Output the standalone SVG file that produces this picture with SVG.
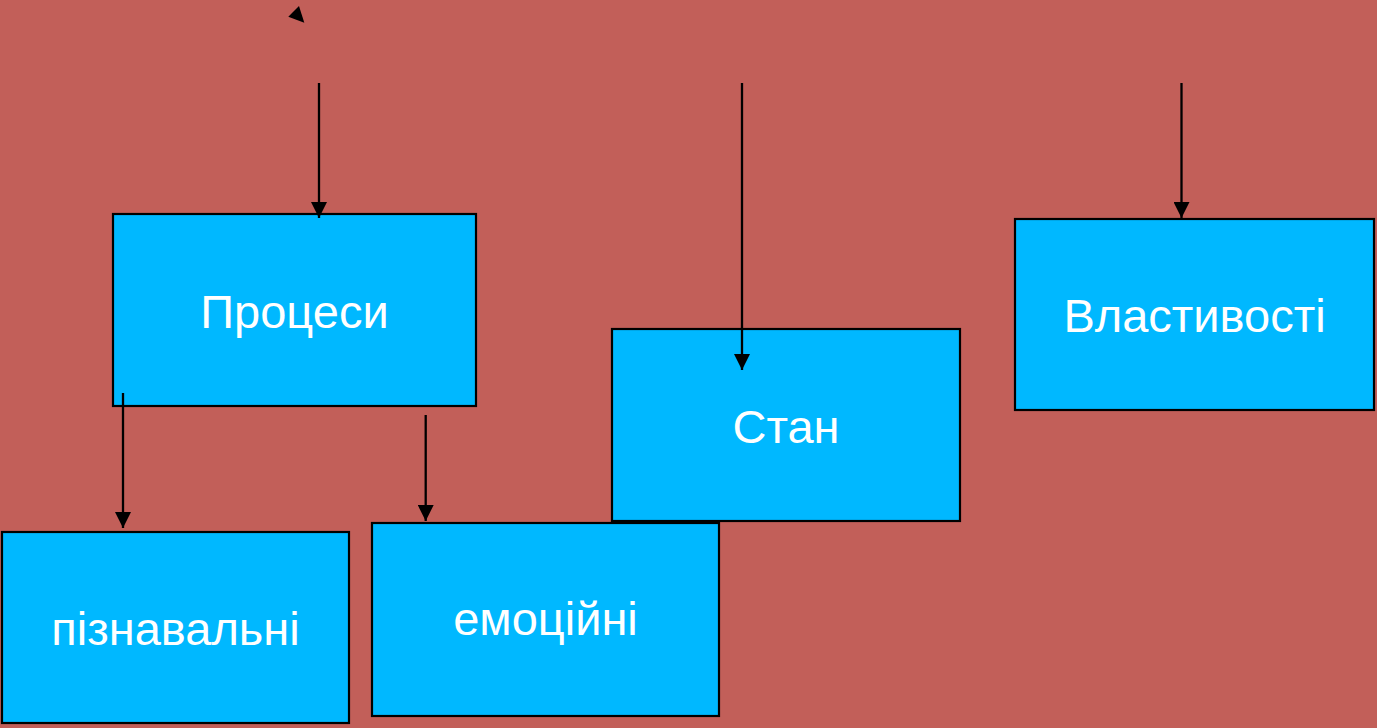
<svg xmlns="http://www.w3.org/2000/svg" width="1377" height="728" viewBox="0 0 1377 728">
  <style>
    .box { fill: #00B8FF; stroke: #000; stroke-width: 2.2; }
    .lbl { fill: #FFFFFF; font-family: "Liberation Sans", Arial, sans-serif; font-size: 47px; text-anchor: middle; }
    .conn { stroke: #000; stroke-width: 2.3; fill: none; marker-end: url(#ah); }
  </style>
  <defs>
    <marker id="ah" markerUnits="userSpaceOnUse" markerWidth="16" markerHeight="16" refX="16" refY="8" orient="auto" viewBox="0 0 16 16">
      <path d="M0,0 L16,8 L0,16 z" fill="#000"/>
    </marker>
  </defs>
  <rect x="0" y="0" width="1377" height="728" fill="#C25F59"/>

  <g id="node-procesy">
    <rect class="box" x="113" y="214" width="363" height="192"/>
    <text class="lbl" x="294.5" y="328">Процеси</text>
  </g>
  <g id="node-piznavalni">
    <rect class="box" x="2" y="532" width="347" height="191"/>
    <text class="lbl" x="175.5" y="645">пізнавальні</text>
  </g>
  <g id="node-emotsiini">
    <rect class="box" x="372" y="523" width="347" height="193"/>
    <text class="lbl" x="545.5" y="635">емоційні</text>
  </g>
  <g id="node-stan">
    <rect class="box" x="612" y="329" width="348" height="192"/>
    <text class="lbl" x="786" y="443">Стан</text>
  </g>
  <g id="node-vlastyvosti">
    <rect class="box" x="1015" y="219" width="359" height="191"/>
    <text class="lbl" x="1194.5" y="332">Властивості</text>
  </g>

  <g id="connectors">
    <line class="conn" x1="319" y1="83" x2="319" y2="218"/>
    <line class="conn" x1="742" y1="83" x2="742" y2="370"/>
    <line class="conn" x1="1181.5" y1="83" x2="1181.5" y2="218"/>
    <line class="conn" x1="123" y1="393" x2="123" y2="528"/>
    <line class="conn" x1="425.7" y1="415" x2="425.7" y2="521"/>
    <polygon points="288.3,16.7 299,6 304.3,22.7" fill="#000"/>
  </g>
</svg>
